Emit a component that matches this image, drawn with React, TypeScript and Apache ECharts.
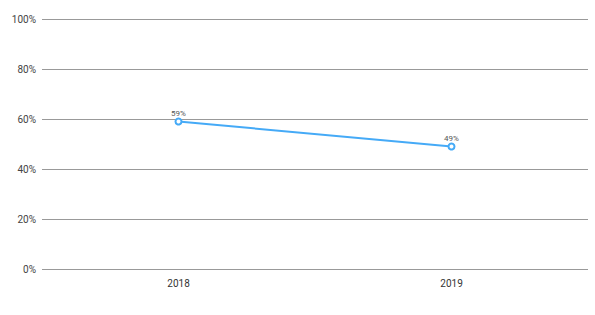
import React, { useEffect, useRef } from "react";
import * as echarts from "echarts";

const categories = ["2018", "2019"];
const values = [59, 49];

export default function App() {
  const ref = useRef<HTMLDivElement>(null);
  useEffect(() => {
    if (!ref.current) return;
    const chart = echarts.init(ref.current, null, { renderer: "svg" });
    chart.setOption({
      animation: false,
      grid: { left: 42, right: 7, top: 19, bottom: 46, containLabel: false },
      xAxis: {
        type: "category",
        data: categories,
        boundaryGap: true,
        axisLine: { show: false },
        axisTick: { show: false },
        axisLabel: { color: "#333", fontSize: 10, margin: 9, fontFamily: "Roboto" },
      },
      yAxis: {
        type: "value",
        min: 0,
        max: 100,
        interval: 20,
        axisLine: { show: false },
        axisTick: { show: false },
        axisLabel: { formatter: "{value}%", color: "#444", fontSize: 10, margin: 6, fontFamily: "Roboto" },
        splitLine: { lineStyle: { color: "#999", width: 1 } },
      },
      series: [
        {
          type: "line",
          data: values,
          symbol: "emptyCircle",
          symbolSize: 6,
          lineStyle: { color: "#45aaf7", width: 2 },
          itemStyle: { color: "#45aaf7", borderWidth: 2 },
          label: {
            show: true,
            position: "top",
            formatter: "{c}%",
            fontSize: 8,
            color: "#555",
            distance: 0,
            fontFamily: "Roboto",
          },
        },
      ],
    });
    return () => chart.dispose();
  }, []);
  return (
    <div
      ref={ref}
      style={{ position: "fixed", left: 0, top: 0, width: 595, height: 315, background: "#fff" }}
    />
  );
}
